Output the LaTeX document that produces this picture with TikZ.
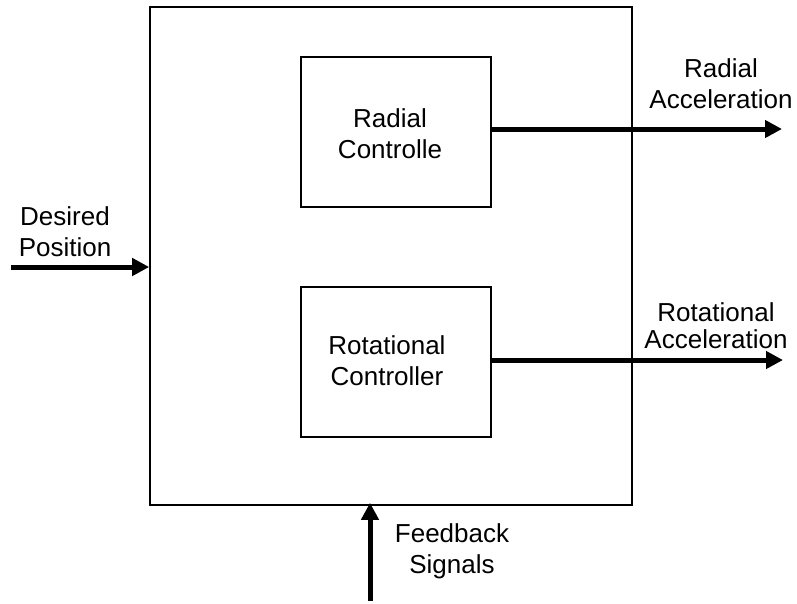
\documentclass[tikz,border=0pt]{standalone}
\usepackage{fontspec}
\setmainfont{Liberation Sans}
\usetikzlibrary{arrows.meta}
\tikzset{
  block/.style={draw=black, line width=1.6pt, fill=white, inner sep=0pt},
  sig/.style={line width=5pt, -{Triangle[length=17pt,width=17pt]}},
  lbl/.style={align=center, inner sep=0pt, anchor=base,
    font=\fontsize{26}{30.5}\selectfont},
}
\begin{document}
\begin{tikzpicture}[x=1pt, y=-1pt]
  \useasboundingbox (0,0) rectangle (797,603);

  % controller blocks
  \node[block, minimum width=482pt, minimum height=498pt] (outer) at (391,256) {};
  \node[block, minimum width=190pt, minimum height=150pt] (radial) at (396,132) {};
  \node[block, minimum width=190pt, minimum height=150pt] (rot) at (396,362) {};

  % block titles (anchored on the last line's baseline)
  \node[lbl] (radialtxt) at (390,158) {Radial\\Controlle};
  \node[lbl] (rottxt) at (387,385) {Rotational\\Controller};

  % free ends of the signals
  \coordinate (dp) at (11,267);
  \coordinate (ra) at (782,129);
  \coordinate (rr) at (783,360);
  \coordinate (fb) at (370,601);

  % signals
  \draw[sig] (dp) -- (outer.west |- dp);
  \draw[sig] (radial.east |- ra) -- (ra);
  \draw[sig] (rot.east |- rr) -- (rr);
  \draw[sig, shorten >=-3pt] (fb) -- (fb |- outer.south);

  % signal labels
  \node[lbl] (dptxt) at (65,256) {Desired\\Position};
  \node[lbl] (ratxt) at (721,108) {Radial\\Acceleration};
  \node[lbl, font=\fontsize{26}{27}\selectfont] (rrtxt) at (716,348) {Rotational\\Acceleration};
  \node[lbl] (fbtxt) at (452,573) {Feedback\\Signals};
\end{tikzpicture}
\end{document}
